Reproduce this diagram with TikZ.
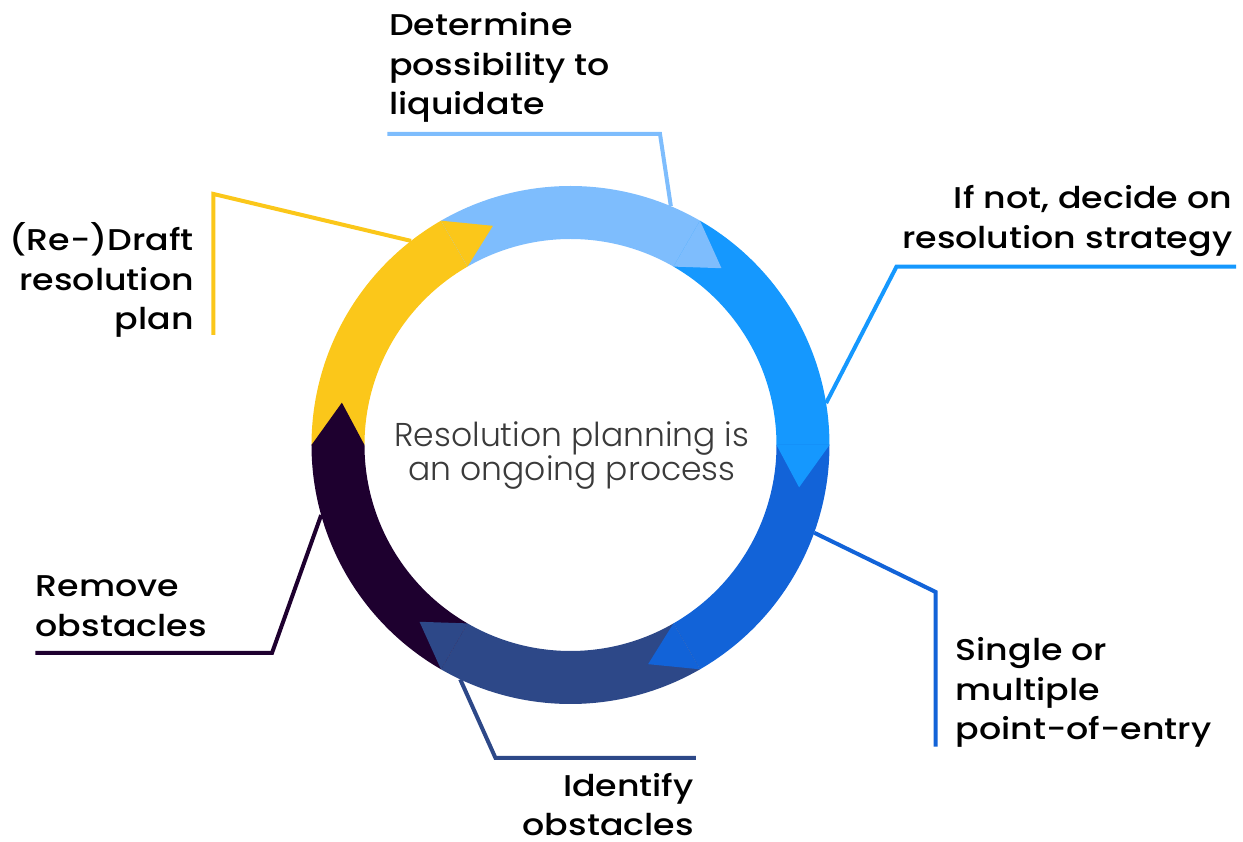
\documentclass[tikz,border=0pt]{standalone}
\usepackage{fontspec}
\newfontfamily\lblfont{Poppins Medium}[FakeStretch=1.16]
\newfontfamily\ctrfont{Poppins Light}
\definecolor{cyellow}{HTML}{FBC71A}
\definecolor{clight}{HTML}{7EBDFD}
\definecolor{cblue}{HTML}{1598FE}
\definecolor{cdblue}{HTML}{1263D8}
\definecolor{cnavy}{HTML}{2D4888}
\definecolor{cpurple}{HTML}{1E002F}
\definecolor{ctext}{HTML}{3A3A3A}
\begin{document}
\begin{tikzpicture}[x=1pt,y=1pt,
  lbl/.style={font=\lblfont\fontsize{30}{39.5}\selectfont, inner sep=0pt, text=black},
  ctr/.style={font=\ctrfont\fontsize{33}{31.6}\selectfont, inner sep=0pt, text=ctext},
  leader/.style={line width=4pt, line join=miter}]
\useasboundingbox (-570.5,-397) rectangle (672.5,445);
\def\Rin{206}
\def\Rout{259}
\def\Rmid{232.5}
% ring segments (clockwise flow)
\foreach \a/\b/\c in {180/120/cyellow,120/60/clight,60/0/cblue,0/-60/cdblue,-60/-120/cnavy,-120/-180/cpurple}
  \fill[\c] (\a:\Rin) arc[start angle=\a,end angle=\b,radius=\Rin] -- (\b:\Rout) arc[start angle=\b,end angle=\a,radius=\Rout] -- cycle;
% arrow tips
\foreach \b/\c in {120/cyellow,60/clight,0/cblue,-60/cdblue,-120/cnavy,-180/cpurple}
  \fill[\c] (\b:\Rin) -- ({\b-10.5}:\Rmid) -- (\b:\Rout) -- cycle;
% centre text
\node[ctr, anchor=base] (centre) at (1.5,-1.7) {\begin{tabular}[t]{@{}c@{}}Resolution planning is\\an ongoing process\end{tabular}};
% labels
\node[lbl, anchor=base west] (t1) at (-181.5,409) {\begin{tabular}[t]{@{}l@{}}Determine\\possibility to\\liquidate\end{tabular}};
\node[lbl, anchor=base east] (t2) at (-376.5,194) {\begin{tabular}[t]{@{}r@{}}(Re-)Draft\\resolution\\plan\end{tabular}};
\node[lbl, anchor=base east] (t3) at (662,236) {\begin{tabular}[t]{@{}r@{}}If not, decide on\\resolution strategy\end{tabular}};
\node[lbl, anchor=base west] (t4) at (385,-215.7) {\begin{tabular}[t]{@{}l@{}}Single or\\multiple\\point-of-entry\end{tabular}};
\node[lbl, anchor=base east] (t5) at (123.5,-351.5) {\begin{tabular}[t]{@{}r@{}}Identify\\obstacles\end{tabular}};
\node[lbl, anchor=base west] (t6) at (-535,-151.7) {\begin{tabular}[t]{@{}l@{}}Remove\\obstacles\end{tabular}};
% leader coordinates
\coordinate (r1) at (67.2:\Rout);
\coordinate (k1) at (89.5,311);
\coordinate (e1) at (-183,311);
\coordinate (r2) at (128:\Rout);
\coordinate (k2) at (-357,251);
\coordinate (e2) at (-357,110);
\coordinate (r3) at (9.3:\Rout);
\coordinate (k3) at (326,178.3);
\coordinate (e3) at (665.5,178.3);
\coordinate (r4) at (-19.8:\Rout);
\coordinate (k4) at (365.2,-147);
\coordinate (e4) at (365.2,-301.7);
\coordinate (r5) at (-115.2:\Rout);
\coordinate (k5) at (-75,-313);
\coordinate (e5) at (125.5,-313);
\coordinate (r6) at (195.7:\Rout);
\coordinate (k6) at (-298.5,-208);
\coordinate (e6) at (-535,-208);
% leaders
\draw[leader, clight] (e1) -- (k1) -- (r1);
\draw[leader, cyellow] (e2) -- (k2) -- (r2);
\draw[leader, cblue] (e3) -- (k3) -- (r3);
\draw[leader, cdblue] (e4) -- (k4) -- (r4);
\draw[leader, cnavy] (e5) -- (k5) -- (r5);
\draw[leader, cpurple] (e6) -- (k6) -- (r6);
\end{tikzpicture}
\end{document}
